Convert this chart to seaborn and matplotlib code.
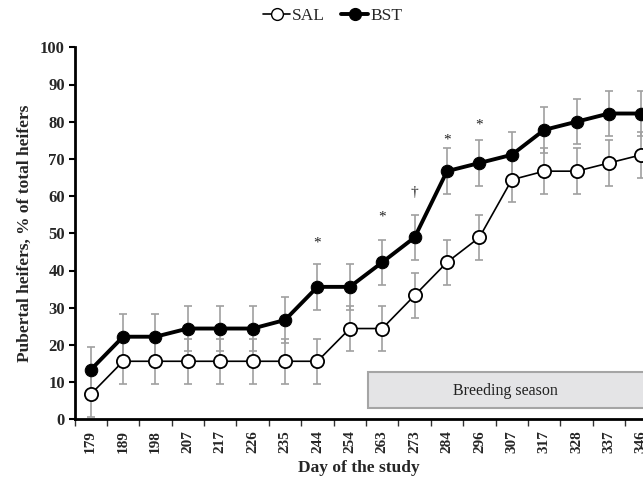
import numpy as np
import pandas as pd
import matplotlib
matplotlib.use("Agg")
import matplotlib.pyplot as plt
from matplotlib.patches import Rectangle
from matplotlib.lines import Line2D
import seaborn as sns

# ---- data ----
days = ["179", "189", "198", "207", "217", "226", "235", "244", "254",
        "263", "273", "284", "296", "307", "317", "328", "337", "346"]
sal = [6.7, 15.6, 15.6, 15.6, 15.6, 15.6, 15.6, 15.6, 24.4,
       24.4, 33.3, 42.2, 48.9, 64.4, 66.7, 66.7, 68.9, 71.1]
bst = [13.3, 22.2, 22.2, 24.4, 24.4, 24.4, 26.7, 35.6, 35.6,
       42.2, 48.9, 66.7, 68.9, 71.1, 77.8, 80.0, 82.2, 82.2]
sal_err = [6.1] * 18
bst_err = [6.1] * 18
sig_days = ["244", "263", "273", "284", "296"]
sig_marks = ["*", "*", "\u2020", "*", "*"]
sig_y = [47.4, 54.4, 60.9, 75.0, 79.0]
yticks = [0, 10, 20, 30, 40, 50, 60, 70, 80, 90, 100]

sns.set_theme(style="ticks")
plt.rcParams["font.family"] = ["Liberation Serif", "DejaVu Serif"]

fig = plt.figure(figsize=(6.43, 4.83), dpi=100)
ax = fig.add_axes([74.5 / 643, 1 - 419.3 / 483, (643 - 74.5) / 643, (419.3 - 47.3) / 483])

pos = np.arange(len(days))
df = pd.DataFrame({"pos": pos, "SAL": sal, "BST": bst})

ax.errorbar(pos, sal, yerr=sal_err, fmt="none", ecolor="#a0a0a0",
            elinewidth=1.2, capsize=3, capthick=1.2, zorder=1)
ax.errorbar(pos, bst, yerr=bst_err, fmt="none", ecolor="#a0a0a0",
            elinewidth=1.2, capsize=3, capthick=1.2, zorder=1)

sns.lineplot(data=df, x="pos", y="SAL", ax=ax, color="black", lw=1.2,
             marker="o", markersize=9.5, markerfacecolor="white",
             markeredgecolor="black", markeredgewidth=1.3, zorder=3)
sns.lineplot(data=df, x="pos", y="BST", ax=ax, color="black", lw=2.8,
             marker="o", markersize=9, markerfacecolor="black",
             markeredgecolor="black", zorder=4)

# significance marks
for d, m, yv in zip(sig_days, sig_marks, sig_y):
    ax.text(days.index(d), yv, m, ha="center", va="center", fontsize=11,
            color="#222222")

# breeding season box
ax.add_patch(Rectangle((8.55, 3.0), 10, 9.8, facecolor="#e4e4e6",
                       edgecolor="#a5a5a5", lw=1.5, zorder=0.5))
ax.text(12.8, 7.6, "Breeding season", ha="center", va="center", fontsize=11.5,
        color="#222222")

ax.set_xlim(-0.5, 17.05)
ax.set_ylim(0, 100)
ax.set_yticks(yticks)
ax.set_yticklabels([str(v) for v in yticks], fontweight="bold", fontsize=12)
ax.set_xticks(pos)
ax.set_xticklabels(days, rotation=90, fontweight="bold", fontsize=11)
ax.set_xticks(np.arange(-0.5, 17.5, 1), minor=True)
ax.tick_params(axis="x", which="major", length=0, pad=8)
ax.tick_params(axis="x", which="minor", length=5, width=1, color="#333333",
               direction="out")
ax.tick_params(axis="y", which="major", length=4, width=1.5, color="black",
               pad=3)

for s in ["top", "right"]:
    ax.spines[s].set_visible(False)
for s in ["left", "bottom"]:
    ax.spines[s].set_linewidth(2)
    ax.spines[s].set_color("black")

ax.set_xlabel("Day of the study", fontweight="bold", fontsize=12.5, labelpad=5)
ax.set_ylabel("Pubertal heifers, % of total heifers", fontweight="bold",
              fontsize=12.5, labelpad=5)

handles = [
    Line2D([], [], color="black", lw=1.2, marker="o", markersize=8.5,
           markerfacecolor="white", markeredgecolor="black"),
    Line2D([], [], color="black", lw=2.8, marker="o", markersize=8.5,
           markerfacecolor="black"),
]
fig.legend(handles, ["SAL", "BST"], loc="center", bbox_to_anchor=(0.517, 1 - 16 / 483),
           ncol=2, frameon=False, fontsize=12.5, handlelength=1.6,
           handletextpad=0.1, columnspacing=0.9)

fig.savefig("out.png", dpi=100)
